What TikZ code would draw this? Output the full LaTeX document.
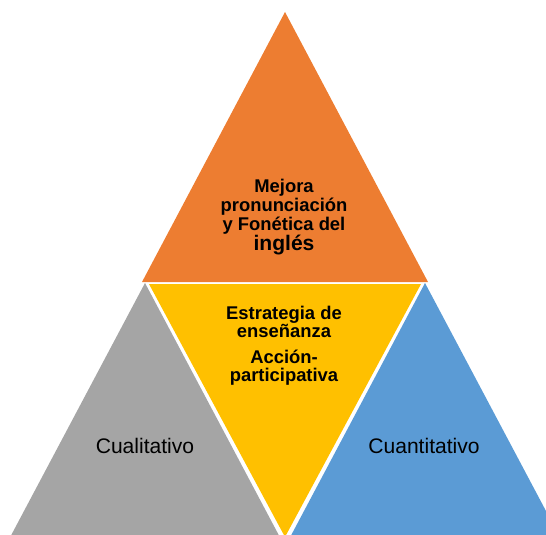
\documentclass[tikz,border=0pt]{standalone}
\usepackage{fontspec}
\setmainfont{Liberation Sans}
\usepackage{xcolor}
\usetikzlibrary{positioning}
\definecolor{pyrOrange}{HTML}{ED7D31}
\definecolor{pyrGray}{HTML}{A5A5A5}
\definecolor{pyrYellow}{HTML}{FFC000}
\definecolor{pyrBlue}{HTML}{5B9BD5}

\begin{document}
\begin{tikzpicture}[
    x=0.75pt,
    y=-0.75pt,
    tri/.style={draw=none},
    bold/.style={
        inner sep=0pt,
        align=center,
        font=\bfseries\fontsize{13.8}{14.25}\selectfont
    },
    plain/.style={
        inner sep=0pt,
        anchor=base,
        font=\fontsize{15.8}{18}\selectfont
    }
]
\useasboundingbox (0,0) rectangle (546,535);
\clip (0,0) rectangle (546,535);

% triangles
\fill[tri, pyrOrange] (285,12) -- (142,282) -- (428,282) -- cycle;
\fill[tri, pyrGray] (145,283) -- (-2,560) -- (292,560) -- cycle;
\fill[tri, pyrBlue] (425,283) -- (278,560) -- (572,560) -- cycle;
\fill[tri, pyrYellow] (149,284) -- (421,284) -- (285,537) -- cycle;

% texts
\node[bold] (mejora) at (284,217)
{Mejora\\pronunciación\\y Fonética del\\{\fontsize{15.8}{18}\selectfont inglés}};

\node[bold, font=\bfseries\fontsize{13.8}{13.5}\selectfont] (estrategia) at (284,345.5)
{Estrategia de\\enseñanza\\[6.2pt]Acción-\\participativa};

\node[plain] (cuali) at (145,453) {Cualitativo};
\node[plain] (cuanti) at (424,453) {Cuantitativo};

\end{tikzpicture}
\end{document}
